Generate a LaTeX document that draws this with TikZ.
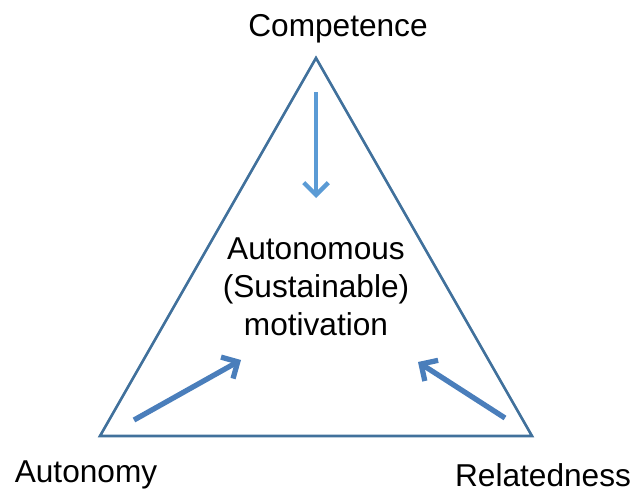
\documentclass[tikz,border=0pt]{standalone}
\usepackage{fontspec}
\setmainfont{Liberation Sans}
\usetikzlibrary{arrows.meta,positioning}
\definecolor{edgeblue}{HTML}{41719C}
\definecolor{toparrow}{HTML}{5B9BD5}
\definecolor{sidearrow}{HTML}{4A7EBB}
\tikzset{
    >={Straight Barb[length=7pt,width=14pt]},
    side/.style={draw=edgeblue, line width=1.5pt, line join=miter},
    pull/.style={->, line width=3pt},
    label/.style={font={\fontsize{18pt}{21.5pt}\selectfont}, inner sep=0pt, align=center},
}
\begin{document}
\begin{tikzpicture}
[
    x=0.02cm, y=-0.02cm,
]
\useasboundingbox (0,0) rectangle (635,490);
% corners of the triangle
\coordinate (top) at (316,58);
\coordinate (left) at (100,436);
\coordinate (right) at (532,436);
\draw[side] (top) -- (left) -- (right) -- cycle;
% labels
\node[label] (competence) at (338,29) {Competence};
\node[label] (autonomy) at (86,475) {Autonomy};
\node[label] (relatedness) at (543,475) {Relatedness};
\node[label] (centre) at (316,287) {Autonomous\\(Sustainable)\\motivation};
% arrows towards the centre
\coordinate (c1) at (316,92);
\coordinate (c2) at (316,198);
\coordinate (a1) at (134,420);
\coordinate (a2) at (241,360);
\coordinate (r1) at (505,418);
\coordinate (r2) at (418,362);
\draw[pull, toparrow, line width=2.5pt] (c1) -- (c2);
\draw[pull, sidearrow] (a1) -- (a2);
\draw[pull, sidearrow] (r1) -- (r2);
\end{tikzpicture}
\end{document}
